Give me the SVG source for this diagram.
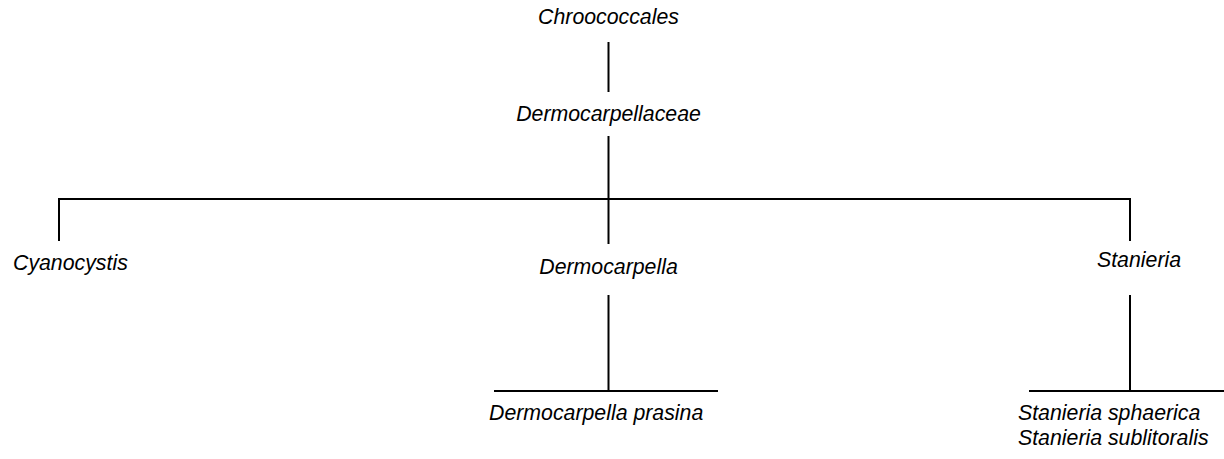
<svg xmlns="http://www.w3.org/2000/svg" width="1224" height="459" viewBox="0 0 1224 459">
<style>
text{font-family:"Liberation Sans",Arial,sans-serif;font-size:21.3px;font-style:italic;fill:#000}
.c{text-anchor:middle}
line{stroke:#000;stroke-width:2}
</style>
<rect width="1224" height="459" fill="#fff"/>
<g id="connectors">
<line x1="608.5" y1="42" x2="608.5" y2="92"/>
<line x1="608.5" y1="136" x2="608.5" y2="198"/>
<line x1="608.5" y1="200" x2="608.5" y2="244"/>
<line x1="58" y1="199" x2="1131" y2="199"/>
<line x1="59" y1="198" x2="59" y2="241"/>
<line x1="1130" y1="198" x2="1130" y2="241"/>
<line x1="608.5" y1="295" x2="608.5" y2="391"/>
<line x1="494" y1="391" x2="718" y2="391"/>
<line x1="1130" y1="295" x2="1130" y2="391"/>
<line x1="1029" y1="391" x2="1224" y2="391"/>
</g>
<g id="n-chroococcales"><text class="c" x="608.5" y="24">Chroococcales</text></g>
<g id="n-dermocarpellaceae"><text class="c" x="608.5" y="121">Dermocarpellaceae</text></g>
<g id="n-cyanocystis"><text x="13" y="270">Cyanocystis</text></g>
<g id="n-dermocarpella"><text class="c" x="608.5" y="274">Dermocarpella</text></g>
<g id="n-stanieria"><text x="1097" y="266.5">Stanieria</text></g>
<g id="n-dermocarpella-prasina"><text x="489" y="420">Dermocarpella prasina</text></g>
<g id="n-stanieria-species"><text x="1018" y="420">Stanieria sphaerica</text><text x="1018" y="445">Stanieria sublitoralis</text></g>
</svg>
